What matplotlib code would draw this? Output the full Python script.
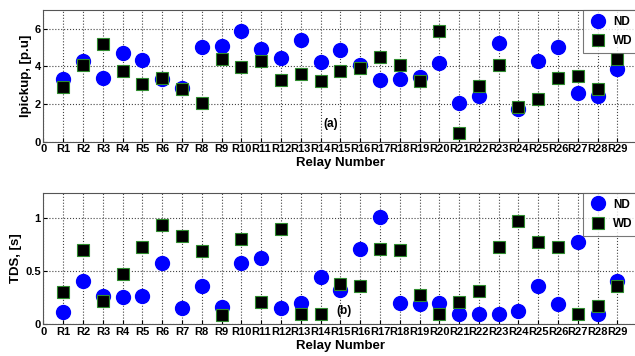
import matplotlib
matplotlib.use("Agg")
import matplotlib.pyplot as plt

plt.rcParams['font.family'] = ['Liberation Sans', 'DejaVu Sans']
plt.rcParams['font.weight'] = 'bold'

relays = ["R%d" % i for i in range(1, 30)]
xtick_labels = ["0"] + relays

ipick_nd = [3.33, 4.31, 3.41, 4.69, 4.33, 3.35, 2.84, 5.03, 5.08, 5.90,
            4.94, 4.46, 5.40, 4.22, 4.87, 4.10, 3.28, 3.33, 3.42, 4.19,
            2.05, 2.41, 5.22, 1.73, 4.30, 5.03, 2.59, 2.44, 3.87]
ipick_wd = [2.91, 4.10, 5.17, 3.76, 3.09, 3.40, 2.80, 2.03, 4.40, 3.96,
            4.28, 3.26, 3.62, 3.25, 3.76, 3.89, 4.51, 4.10, 3.24, 5.90,
            0.45, 2.98, 4.05, 1.82, 2.28, 3.41, 3.51, 2.78, 4.40]

tds_nd = [0.119, 0.405, 0.264, 0.258, 0.264, 0.581, 0.157, 0.364, 0.166, 0.581,
          0.625, 0.157, 0.198, 0.443, 0.324, 0.713, 1.015, 0.198, 0.190, 0.200,
          0.094, 0.097, 0.097, 0.128, 0.358, 0.195, 0.776, 0.094, 0.411]
tds_wd = [0.305, 0.698, 0.223, 0.478, 0.732, 0.937, 0.833, 0.689, 0.091, 0.805,
          0.207, 0.899, 0.097, 0.097, 0.380, 0.358, 0.707, 0.700, 0.276, 0.097,
          0.210, 0.314, 0.729, 0.977, 0.779, 0.729, 0.097, 0.173, 0.364]

xs = list(range(1, 30))

fig = plt.figure(figsize=(6.35, 3.56), dpi=100)
ax1 = fig.add_axes([0.0685, 0.602, 0.935, 0.370])
ax2 = fig.add_axes([0.0685, 0.089, 0.935, 0.3697])

def style(ax, ylim, yticks, ylabel, tag, tagpos):
    ax.set_xlim(0, 30)
    ax.set_ylim(*ylim)
    ax.set_xticks(range(0, 30))
    ax.set_xticklabels(xtick_labels, fontsize=8, fontweight='bold')
    ax.set_yticks(yticks)
    ax.set_yticklabels([("%g" % t) for t in yticks], fontsize=8, fontweight='bold')
    ax.tick_params(direction='in', length=3, pad=2)
    ax.grid(True, linestyle=':', color='#444444', linewidth=0.8)
    ax.set_axisbelow(True)
    ax.set_ylabel(ylabel, fontsize=9.5, fontweight='bold', labelpad=2)
    ax.set_xlabel("Relay Number", fontsize=9.5, fontweight='bold', labelpad=2)
    ax.text(tagpos[0], tagpos[1], tag, fontsize=8.5, ha='center', va='center')
    for s in ax.spines.values():
        s.set_color('#555555')
        s.set_linewidth(0.8)

for ax, nd, wd, ylim, yt, yl, tag, tp in [
        (ax1, ipick_nd, ipick_wd, (0, 7), [0, 2, 4, 6], "Ipickup, [p.u]", "(a)", (14.5, 0.95)),
        (ax2, tds_nd, tds_wd, (0, 1.24), [0, 0.5, 1], "TDS, [s]", "(b)", (15.2, 0.125))]:
    ax.plot(xs, nd, 'o', color='#0000ff', markersize=10, markeredgecolor='#0000ff', label='ND', zorder=3)
    ax.plot(xs, wd, 's', color='black', markersize=8, markeredgecolor='#2e8b2e', markeredgewidth=0.8, label='WD', zorder=4)
    style(ax, ylim, yt, yl, tag, tp)
    leg = ax.legend(loc='upper left', bbox_to_anchor=(0.908, 1.0), fontsize=8.5, frameon=True,
                    fancybox=False, edgecolor='#555555', borderpad=0.5, labelspacing=0.6,
                    handlelength=1.6, handletextpad=0.5, borderaxespad=0.0)
    leg.get_frame().set_linewidth(0.8)

fig.savefig("out.png", dpi=100)
